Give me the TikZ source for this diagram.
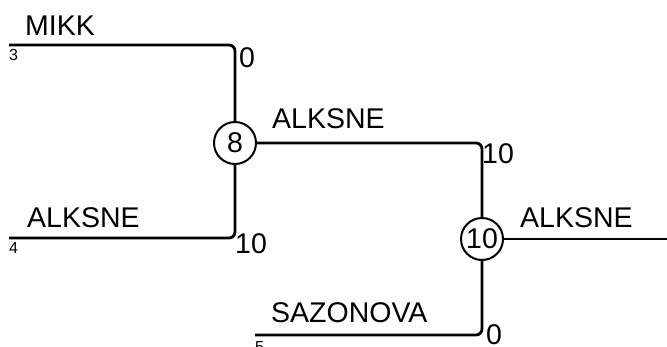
\documentclass[tikz,border=0pt]{standalone}
\usepackage{fontspec}
\setmainfont{Liberation Sans}
\begin{document}
\begin{tikzpicture}[x=1pt,y=-1pt,
  wire/.style={line width=2.8pt,rounded corners=6pt},
  match/.style={circle,draw,line width=2pt,minimum size=42pt,inner sep=0pt,font=\fontsize{28.5}{30}\selectfont},
  player/.style={anchor=base west,inner sep=0pt,font=\fontsize{28.5}{30}\selectfont},
  score/.style={anchor=base west,inner sep=0pt,font=\fontsize{28.5}{30}\selectfont},
  seed/.style={anchor=base west,inner sep=0pt,font=\fontsize{16}{18}\selectfont}]
\useasboundingbox (0,0) rectangle (667,346);
\node[match] (m8) at (235,143) {8};
\node[match] (m10) at (482,239) {10};
\coordinate (s3) at (9,45);
\coordinate (s4) at (9,238);
\coordinate (s5) at (255,335);
\coordinate (out) at (667,239);
\draw[wire] (s3) -- (s3 -| m8) -- (m8.north);
\draw[wire] (s4) -- (s4 -| m8) -- (m8.south);
\draw[wire] (m8.east) -- (m8 -| m10) -- (m10.north);
\draw[wire] (s5) -- (s5 -| m10) -- (m10.south);
\draw[wire] (m10.east) -- (out);
\node[player] (n1) at (25,35) {MIKK};
\node[player] (n2) at (27,227) {ALKSNE};
\node[player] (n3) at (272,128) {ALKSNE};
\node[player] (n4) at (520,227) {ALKSNE};
\node[player] (n5) at (271,322) {SAZONOVA};
\node[seed] (d3) at (9,60) {3};
\node[seed] (d4) at (9,253) {4};
\node[seed] (d5) at (255,352) {5};
\node[score] (c1) at (239,67) {0};
\node[score] (c2) at (235,253) {10};
\node[score] (c3) at (482,163) {10};
\node[score] (c4) at (486,344) {0};
\end{tikzpicture}
\end{document}
